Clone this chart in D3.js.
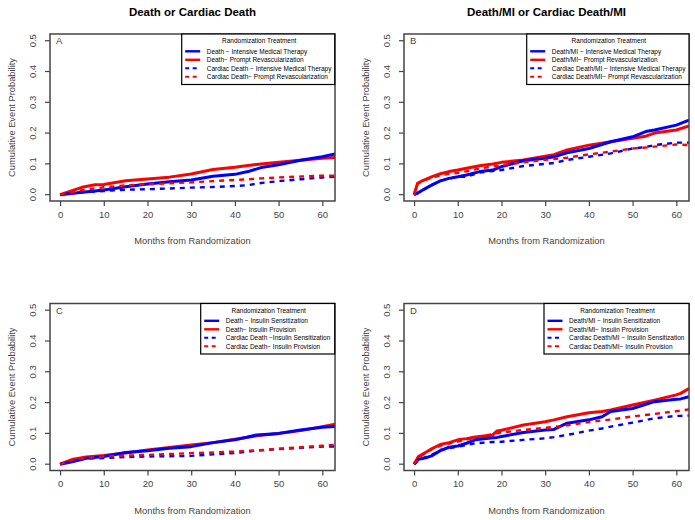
<!DOCTYPE html>
<html>
<head>
<meta charset="utf-8">
<script src="https://cdn.jsdelivr.net/npm/d3@7"></script>
<style>
  body { margin: 0; background: #fff; }
  svg { font-family: "Liberation Sans", Arial, sans-serif; }
</style>
</head>
<body>
<svg width="695" height="520"></svg>
<script>
// months and cumulative probabilities
var A_months = [0, 5, 8, 10, 15, 20, 25, 30, 35, 40, 43, 46, 50, 55, 60, 62.9];
var A_deathIMT = [0, 0.008, 0.012, 0.015, 0.026, 0.035, 0.042, 0.048, 0.06, 0.066, 0.075, 0.088, 0.097, 0.112, 0.123, 0.132];
var A_deathPR  = [0, 0.024, 0.032, 0.033, 0.045, 0.051, 0.057, 0.067, 0.082, 0.089, 0.095, 0.1, 0.105, 0.112, 0.118, 0.121];
var A_cardIMT  = [0, 0.008, 0.01, 0.012, 0.016, 0.018, 0.02, 0.023, 0.025, 0.028, 0.031, 0.038, 0.044, 0.05, 0.056, 0.058];
var A_cardPR   = [0, 0.015, 0.02, 0.024, 0.03, 0.034, 0.037, 0.04, 0.044, 0.048, 0.05, 0.053, 0.056, 0.059, 0.062, 0.062];

var B_months = [0, 0.8, 2, 4, 6, 8, 10, 12, 15, 18, 20, 25, 30, 32, 35, 40, 45, 50, 53, 55, 60, 62.9];
var B_deathIMT = [0, 0.005, 0.015, 0.031, 0.045, 0.053, 0.058, 0.064, 0.075, 0.08, 0.091, 0.11, 0.118, 0.123, 0.136, 0.15, 0.172, 0.188, 0.205, 0.21, 0.226, 0.242];
var B_deathPR  = [0, 0.037, 0.046, 0.058, 0.068, 0.075, 0.08, 0.086, 0.094, 0.1, 0.105, 0.113, 0.125, 0.13, 0.145, 0.161, 0.172, 0.183, 0.19, 0.2, 0.21, 0.223];
var B_cardIMT  = [0, 0.005, 0.015, 0.03, 0.045, 0.052, 0.058, 0.058, 0.072, 0.077, 0.08, 0.093, 0.1, 0.103, 0.113, 0.123, 0.134, 0.15, 0.155, 0.161, 0.169, 0.169];
var B_cardPR   = [0, 0.035, 0.045, 0.055, 0.063, 0.068, 0.071, 0.076, 0.085, 0.092, 0.096, 0.105, 0.113, 0.116, 0.12, 0.131, 0.14, 0.15, 0.153, 0.156, 0.163, 0.161];

var C_months = [0, 3, 6, 10, 15, 20, 25, 30, 35, 40, 45, 50, 55, 60, 62.9];
var C_deathIS = [0, 0.009, 0.019, 0.025, 0.038, 0.044, 0.052, 0.057, 0.07, 0.079, 0.095, 0.1, 0.111, 0.12, 0.122];
var C_deathIP = [0, 0.016, 0.023, 0.028, 0.036, 0.046, 0.054, 0.062, 0.07, 0.081, 0.092, 0.1, 0.109, 0.122, 0.13];
var C_cardIS  = [0, 0.012, 0.018, 0.02, 0.023, 0.025, 0.026, 0.027, 0.032, 0.036, 0.044, 0.049, 0.053, 0.057, 0.057];
var C_cardIP  = [0, 0.015, 0.021, 0.025, 0.028, 0.03, 0.033, 0.036, 0.038, 0.041, 0.045, 0.05, 0.055, 0.06, 0.063];

var D_months = [0, 1, 3, 4, 6, 8, 10, 12, 14, 18, 19, 20, 25, 30, 32, 35, 40, 43, 45, 50, 55, 60, 61, 62.9];
var D_deathIS = [0, 0.016, 0.022, 0.027, 0.044, 0.055, 0.059, 0.068, 0.079, 0.086, 0.087, 0.09, 0.103, 0.111, 0.113, 0.133, 0.144, 0.154, 0.171, 0.181, 0.203, 0.211, 0.212, 0.219];
var D_deathIP = [0, 0.025, 0.041, 0.05, 0.064, 0.07, 0.079, 0.083, 0.088, 0.095, 0.108, 0.11, 0.127, 0.138, 0.144, 0.154, 0.167, 0.171, 0.176, 0.192, 0.208, 0.225, 0.23, 0.246];
var D_cardIS  = [0, 0.012, 0.025, 0.03, 0.046, 0.052, 0.057, 0.062, 0.068, 0.072, 0.072, 0.073, 0.079, 0.084, 0.088, 0.095, 0.109, 0.116, 0.122, 0.135, 0.149, 0.157, 0.157, 0.158];
var D_cardIP  = [0, 0.02, 0.04, 0.048, 0.06, 0.067, 0.073, 0.08, 0.086, 0.098, 0.1, 0.103, 0.111, 0.118, 0.121, 0.126, 0.137, 0.142, 0.145, 0.155, 0.163, 0.172, 0.174, 0.178];

var xTicks = [0, 10, 20, 30, 40, 50, 60];
var yTicks = [0, 0.1, 0.2, 0.3, 0.4, 0.5];

var panels = [
  { letter: "A", title: "Death or Cardiac Death", x: 50, y: 34, legendX: 181.7, legendW: 153,
    months: A_months,
    series: [
      { name: "Death − Intensive Medical Therapy", values: A_deathIMT, color: "#0000ff", dash: false },
      { name: "Death− Prompt Revascularization", values: A_deathPR, color: "#ff0000", dash: false },
      { name: "Cardiac Death − Intensive Medical Therapy", values: A_cardIMT, color: "#0000ff", dash: true },
      { name: "Cardiac Death− Prompt Revascularization", values: A_cardPR, color: "#ff0000", dash: true }
    ] },
  { letter: "B", title: "Death/MI or Cardiac Death/MI", x: 404, y: 34, legendX: 526.7, legendW: 162.3,
    months: B_months,
    series: [
      { name: "Death/MI − Intensive Medical Therapy", values: B_deathIMT, color: "#0000ff", dash: false },
      { name: "Death/MI− Prompt Revascularization", values: B_deathPR, color: "#ff0000", dash: false },
      { name: "Cardiac Death/MI − Intensive Medical Therapy", values: B_cardIMT, color: "#0000ff", dash: true },
      { name: "Cardiac Death/MI− Prompt Revascularization", values: B_cardPR, color: "#ff0000", dash: true }
    ] },
  { letter: "C", title: null, x: 50, y: 303.5, legendX: 200.7, legendW: 134,
    months: C_months,
    series: [
      { name: "Death − Insulin Sensitization", values: C_deathIS, color: "#0000ff", dash: false },
      { name: "Death− Insulin Provision", values: C_deathIP, color: "#ff0000", dash: false },
      { name: "Cardiac Death −Insulin Sensitization", values: C_cardIS, color: "#0000ff", dash: true },
      { name: "Cardiac Death− Insulin Provision", values: C_cardIP, color: "#ff0000", dash: true }
    ] },
  { letter: "D", title: null, x: 404, y: 303.5, legendX: 544, legendW: 145,
    months: D_months,
    series: [
      { name: "Death/MI − Insulin Sensitization", values: D_deathIS, color: "#0000ff", dash: false },
      { name: "Death/MI− Insulin Provision", values: D_deathIP, color: "#ff0000", dash: false },
      { name: "Cardiac Death/MI − Insulin Sensitization", values: D_cardIS, color: "#0000ff", dash: true },
      { name: "Cardiac Death/MI− Insulin Provision", values: D_cardIP, color: "#ff0000", dash: true }
    ] }
];

var svg = d3.select("svg");
var boxW = 285, boxH = 167;
var textColor = "#444";
var frameColor = "#444";

panels.forEach(function(p, i) {
  var g = svg.append("g").attr("transform", "translate(" + p.x + "," + p.y + ")");
  var x = d3.scaleLinear().domain([-2.3, 62.9]).range([0, boxW]);
  var y = d3.scaleLinear().domain([-0.0205, 0.5218]).range([boxH, 0]);

  g.append("clipPath").attr("id", "clip" + i)
    .append("rect").attr("width", boxW).attr("height", boxH);

  // axes (R style: ticks outside, labels rotated on y)
  var xAxis = g.append("g").attr("transform", "translate(0," + boxH + ")")
    .call(d3.axisBottom(x).tickValues(xTicks).tickSize(5).tickPadding(5).tickFormat(d3.format("d")));
  var yAxis = g.append("g")
    .call(d3.axisLeft(y).tickValues(yTicks).tickSize(5).tickPadding(4).tickFormat(d3.format(".1f")));
  [xAxis, yAxis].forEach(function(a) {
    a.select(".domain").remove();
    a.selectAll("line").attr("stroke", frameColor).attr("stroke-width", 1.2);
    a.selectAll("text").attr("fill", textColor).style("font-size", "9.5px")
      .style("font-family", "'Liberation Sans', Arial, sans-serif");
  });
  yAxis.selectAll(".tick").attr("transform", null);
  yAxis.selectAll(".tick line").attr("transform", function(d) { return "translate(0," + y(d) + ")"; });
  yAxis.selectAll(".tick text")
    .attr("x", 0).attr("y", 0).attr("dy", "0")
    .style("text-anchor", "middle")
    .attr("transform", function(d) { return "translate(-14," + y(d) + ") rotate(-90)"; });

  var line = d3.line()
    .x(function(d) { return x(d[0]); })
    .y(function(d) { return y(d[1]); })
    .curve(d3.curveLinear);

  var plot = g.append("g").attr("clip-path", "url(#clip" + i + ")");
  var order = [1, 0, 2, 3];
  order.forEach(function(k) {
    var s = p.series[k];
    plot.append("path")
      .datum(p.months.map(function(m, j) { return [m, s.values[j]]; }))
      .attr("d", line)
      .attr("fill", "none")
      .attr("stroke", s.color)
      .attr("stroke-width", s.dash ? 2.4 : 3)
      .attr("stroke-dasharray", s.dash ? "5,5" : null)
      .attr("stroke-linejoin", "round");
  });

  g.append("rect").attr("width", boxW).attr("height", boxH)
    .attr("fill", "none").attr("stroke", frameColor).attr("stroke-width", 1.5);

  g.append("text").attr("x", 6).attr("y", 10)
    .attr("fill", textColor).style("font-size", "9.5px").text(p.letter);

  if (p.title) {
    g.append("text").attr("x", boxW / 2).attr("y", -18)
      .attr("text-anchor", "middle").style("font-size", "11.5px").style("font-weight", "bold")
      .attr("fill", "#000").text(p.title);
  }

  g.append("text").attr("x", boxW / 2).attr("y", boxH + 43)
    .attr("text-anchor", "middle").style("font-size", "9.3px").attr("fill", textColor)
    .text("Months from Randomization");

  g.append("text")
    .attr("transform", "translate(-35," + (boxH / 2) + ") rotate(-90)")
    .attr("text-anchor", "middle").style("font-size", "9.3px").attr("fill", textColor)
    .text("Cumulative Event Probability");

  // legend
  var lg = g.append("g").attr("transform", "translate(" + (p.legendX - p.x) + ",0)");
  lg.append("rect").attr("width", p.legendW).attr("height", 50.5)
    .attr("fill", "#fff").attr("stroke", "#000").attr("stroke-width", 1.2);
  lg.append("text").attr("x", p.legendW / 2 + 1).attr("y", 9)
    .attr("text-anchor", "middle").style("font-size", "6.5px").attr("fill", "#000")
    .text("Randomization Treatment");
  p.series.forEach(function(s, k) {
    var yy = 17.3 + k * 8.5;
    lg.append("line").attr("x1", 3.5).attr("x2", 18.5).attr("y1", yy).attr("y2", yy)
      .attr("stroke", s.color).attr("stroke-width", s.dash ? 2 : 2.4)
      .attr("stroke-dasharray", s.dash ? "4,3.5" : null);
    lg.append("text").attr("x", 25).attr("y", yy + 2.3)
      .style("font-size", "6.5px").attr("fill", "#000").text(s.name);
  });
});
</script>
</body>
</html>
